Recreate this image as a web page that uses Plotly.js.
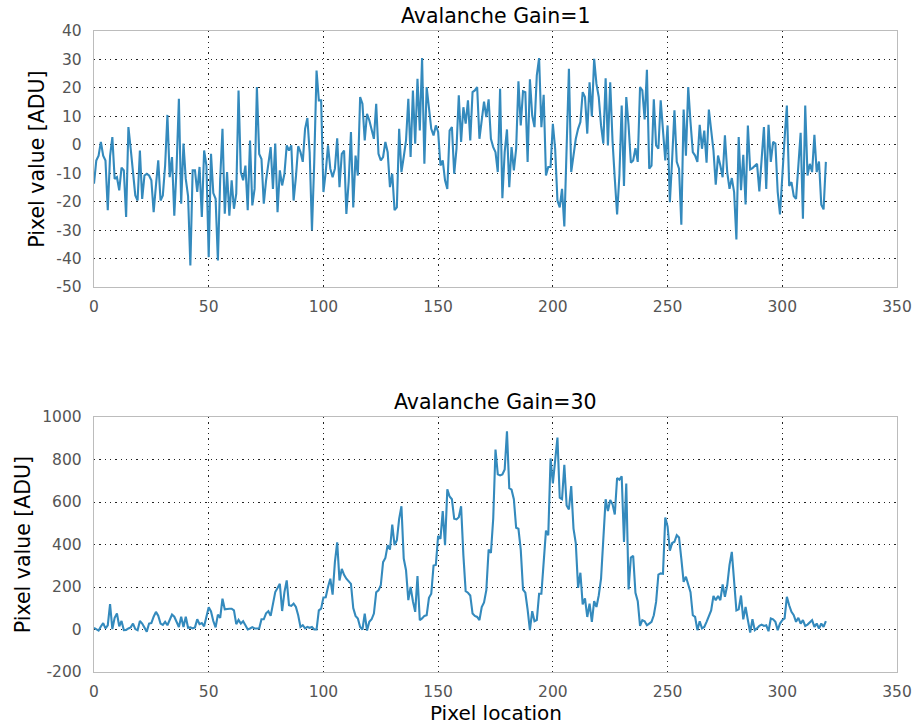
<!DOCTYPE html>
<html>
<head>
<meta charset="utf-8">
<script src="https://cdn.plot.ly/plotly-3.0.1.min.js"></script>
<style>
  html, body { margin: 0; padding: 0; background: #fff; }
  #chart { width: 914px; height: 725px; }
</style>
</head>
<body>
<div id="chart"></div>
<script>
// Line profile across the detector, one row of pixels, at two avalanche gains.
const gain1Values = [
  -13.7, -5.5, -3.8, 1, -3.8, -5.5, -23, -4, 2.7, -12,
  -11.4, -16, -8, -9, -25.4, 6.2, -1.4, -9.6, -17.8, -19.6,
  -2, -19, -10.8, -10.2, -10.8, -12.5, -23.7, -14.3, -5.5, -19.6,
  -17.8, -7.3, 10.5, -11.4, -4.3, -24.9, -8, 16.2, -20.7, 0.4,
  -12, -18, -42.4, -9, -9, -16.6, -7.8, -25.4, -2, -7.3,
  -39.5, -3.2, -17, -19, -40.7, -12, 5.6, -24.2, -9.6, -24.9,
  -12.5, -22.5, -17.2, 19.1, -9.6, -12.5, -7.3, -23, 1.5, -21.3,
  -15.5, 20.3, -3.2, -5, -20.7, -12.5, -6, -0.8, -15.5, 0.4,
  -23.7, -9, -14.3, -10.2, -0.2, -2, -0.2, -19.6, -11.4, -0.5,
  -2.6, -6, 5.6, 9.4, -2.6, -30.1, -6, 26.1, 15.6, 15.6,
  -16.6, -9.6, -0.2, -8.4, -11.4, -8.4, 2.3, -14.9, -3.2, -2,
  -24.3, -13, 4.5, -22, -3.8, -10.8, 16.8, 14.4, 1.5, 10.9,
  8.6, 5, 2.1, 14.4, -3.2, -5.5, -4.3, 1, -2.6, -14.9,
  -10.2, -23, -22, 5.6, -9.6, -4.3, 1.5, 16.2, -4.3, 19.1,
  0.4, 23.2, 5, 30.5, -6.7, 20.3, 12.7, 5.6, 3.3, 6.8,
  4.5, -7.3, -5.5, -12.5, -15.5, 5, 6.2, -10.2, -1.4, 17.4,
  1, 13.2, 7.4, 15.6, 1.5, 18.5, 19.1, 20.3, 2.1, 9.1,
  15.2, 9.7, 16, 2.1, -0.8, -2.6, -9.6, 19.7, -18.8, -2.6,
  5.4, -14.9, -0.8, -9, -1.4, 22.3, 6.8, 18.8, 18.5, -6,
  23, 10.3, 6.2, 24.4, 30.5, 6.2, 17.6, -10.8, -7.8, -7.8,
  7.4, -1.4, -19.6, -22, -15.5, -28.7, -1, 26.7, -9.6, -3.8,
  2.1, 5.6, 8, 18.5, 16.8, 3.9, 22, 10, 30.2, 21.4,
  16.8, 6.8, 0.4, 23.4, -0.2, 22, 1.5, -12, -24.5, -10.8,
  13.8, -14.5, 16.8, 6.8, -6.3, -5.5, -1.2, -6, 20.3, 19.1,
  8.9, 26.4, -8.4, -7.3, 16, -0.2, -1.4, 15.6, 5.6, -5.5,
  6.8, -20.2, -5, 12.1, -6, -8.4, -28.1, 12.4, -3.8, 20.3,
  8, -2.6, -3.8, -6, 7, -1.4, 5, -6.3, 12.4, 5.6,
  -2, -14, -3.8, -7.3, -11.4, 3.3, -9.6, -15.5, -11.7, -16.6,
  -33.3, 2.7, -16, -3.5, -21, 6.8, -8.7, -8.2, -7.3, -6.7,
  -16.4, -4.3, 6.2, -15.5, 7, -6, 1, 0.4, -16.6, -24.5,
  -13, 2.1, 13.8, -14.5, -13.1, -18, -19, -8.7, 4.2, -26,
  13.8, -10.8, -6.7, -9.6, 3.5, -9.6, -5.9, -21.1, -22.7, -6
];

const gain30Values = [
  8, 0, -5, 14, 30, 5, 20, 120, 2, 55,
  75, 15, 40, -3, -2, 5, 10, 28, 2, -3,
  40, 28, 5, -10, 28, 30, 60, 83, 65, 28,
  22, 36, 20, 50, 70, 60, 35, 12, 60, 12,
  60, 8, 10, 5, 10, 48, 25, 30, 15, 60,
  105, 85, 40, 10, 70, 55, 145, 95, 98, 98,
  98, 90, 25, 45, 28, 39, 20, 0, 5, 11,
  5, 5, 5, 48, 48, 76, 86, 64, 114, 176,
  195, 215, 87, 176, 231, 114, 111, 122, 106, 67,
  12, 20, 5, 12, 8, 12, 0, 0, 90, 98,
  151, 152, 200, 239, 164, 317, 410, 231, 285, 257,
  239, 226, 215, 101, 64, 52, 12, 0, 75, -5,
  36, 48, 75, 175, 184, 208, 317, 337, 397, 376,
  494, 397, 420, 521, 580, 334, 279, 138, 200, 133,
  83, 251, 44, 52, 64, 67, 149, 168, 301, 304,
  441, 426, 557, 397, 660, 626, 613, 521, 518, 528,
  580, 350, 180, 173, 160, 75, 64, 59, 44, 106,
  127, 185, 376, 360, 521, 847, 730, 725, 730, 753,
  933, 665, 658, 613, 479, 474, 376, 188, 173, 94,
  -3, 86, 39, 44, 168, 168, 301, 465, 444, 805,
  687, 794, 903, 620, 613, 775, 584, 565, 675, 475,
  405, 196, 267, 118, 146, 59, 122, 36, 133, 106,
  160, 239, 412, 613, 557, 610, 590, 541, 713, 705,
  721, 412, 687, 188, 339, 347, 173, 133, 17, 44,
  39, 20, 28, 36, 67, 130, 258, 264, 262, 527,
  485, 371, 407, 413, 444, 433, 332, 224, 248, 217,
  176, 67, 59, -3, 39, 5, 12, 36, 67, 90,
  158, 138, 158, 138, 212, 154, 208, 304, 365, 221,
  90, 95, 160, 48, 106, 44, -14, 48, -3, 5,
  17, 23, 17, 20, -8, 52, 48, 36, -3, 28,
  44, 52, 154, 114, 83, 67, 36, 55, 28, 44,
  17, 23, 36, 44, 12, 28, 5, 28, 12, 39
];

const panelTitles = ['Avalanche Gain=1', 'Avalanche Gain=30'];
const xAxisLabel = 'Pixel location';
const yAxisLabel = 'Pixel value [ADU]';
const xTickValues = [0, 50, 100, 150, 200, 250, 300, 350];
const yTicksGain1 = [-50, -40, -30, -20, -10, 0, 10, 20, 30, 40];
const yTicksGain30 = [-200, 0, 200, 400, 600, 800, 1000];

// Pixel location along the row: 0, 1, 2, ...
const pixelLocation = gain1Values.map((_, i) => i);

const lineColor = '#348ABD';
const fontFamily = 'DejaVu Sans, sans-serif';
const tickFont = { family: fontFamily, size: 15.5, color: '#555555' };
const labelFont = { family: fontFamily, size: 20.5, color: '#000000' };
const titleFont = { family: fontFamily, size: 20.5, color: '#000000' };

const traces = [
  { x: pixelLocation, y: gain1Values, type: 'scatter', mode: 'lines',
    line: { color: lineColor, width: 2.1 }, xaxis: 'x', yaxis: 'y', hoverinfo: 'skip' },
  { x: pixelLocation, y: gain30Values, type: 'scatter', mode: 'lines',
    line: { color: lineColor, width: 2.1 }, xaxis: 'x2', yaxis: 'y2', hoverinfo: 'skip' }
];

function xAxis(anchor) {
  return {
    anchor: anchor, domain: [0, 1], range: [0, 350],
    tickvals: xTickValues, ticktext: xTickValues.map(String),
    showline: true, mirror: true, linecolor: '#bcbcbc', linewidth: 1.2,
    showgrid: true, gridcolor: '#222222', gridwidth: 1, griddash: '1.3px,4px',
    zeroline: false, ticks: '', ticklabelstandoff: 5, tickfont: tickFont
  };
}

function yAxis(anchor, domain, range, ticks) {
  return {
    anchor: anchor, domain: domain, range: range,
    tickvals: ticks, ticktext: ticks.map(String),
    showline: true, mirror: true, linecolor: '#bcbcbc', linewidth: 1.2,
    showgrid: true, gridcolor: '#222222', gridwidth: 1, griddash: '1.3px,4px',
    zeroline: false, ticks: '', ticklabelstandoff: 8, tickfont: tickFont,
    title: { text: yAxisLabel, font: labelFont, standoff: 6 }
  };
}

const layout = {
  width: 914, height: 725,
  margin: { l: 94, r: 17, t: 31, b: 53 },
  paper_bgcolor: '#ffffff', plot_bgcolor: '#ffffff',
  showlegend: false,
  xaxis: xAxis('y'),
  yaxis: yAxis('x', [0.6006, 1], [-50, 40], yTicksGain1),
  xaxis2: xAxis('y2'),
  yaxis2: yAxis('x2', [0, 0.3978], [-200, 1000], yTicksGain30),
  annotations: [
    { text: panelTitles[0], xref: 'paper', yref: 'paper', x: 0.5, y: 1,
      xanchor: 'center', yanchor: 'bottom', yshift: 1, showarrow: false, font: titleFont },
    { text: panelTitles[1], xref: 'paper', yref: 'paper', x: 0.5, y: 0.3978,
      xanchor: 'center', yanchor: 'bottom', yshift: 1, showarrow: false, font: titleFont },
    { text: xAxisLabel, xref: 'paper', yref: 'paper', x: 0.5, y: 0,
      xanchor: 'center', yanchor: 'middle', yshift: -41, borderpad: 0,
      showarrow: false, font: { family: fontFamily, size: 20, color: '#000000' } }
  ]
};

Plotly.newPlot('chart', traces, layout, { staticPlot: true, displayModeBar: false });
</script>
</body>
</html>
